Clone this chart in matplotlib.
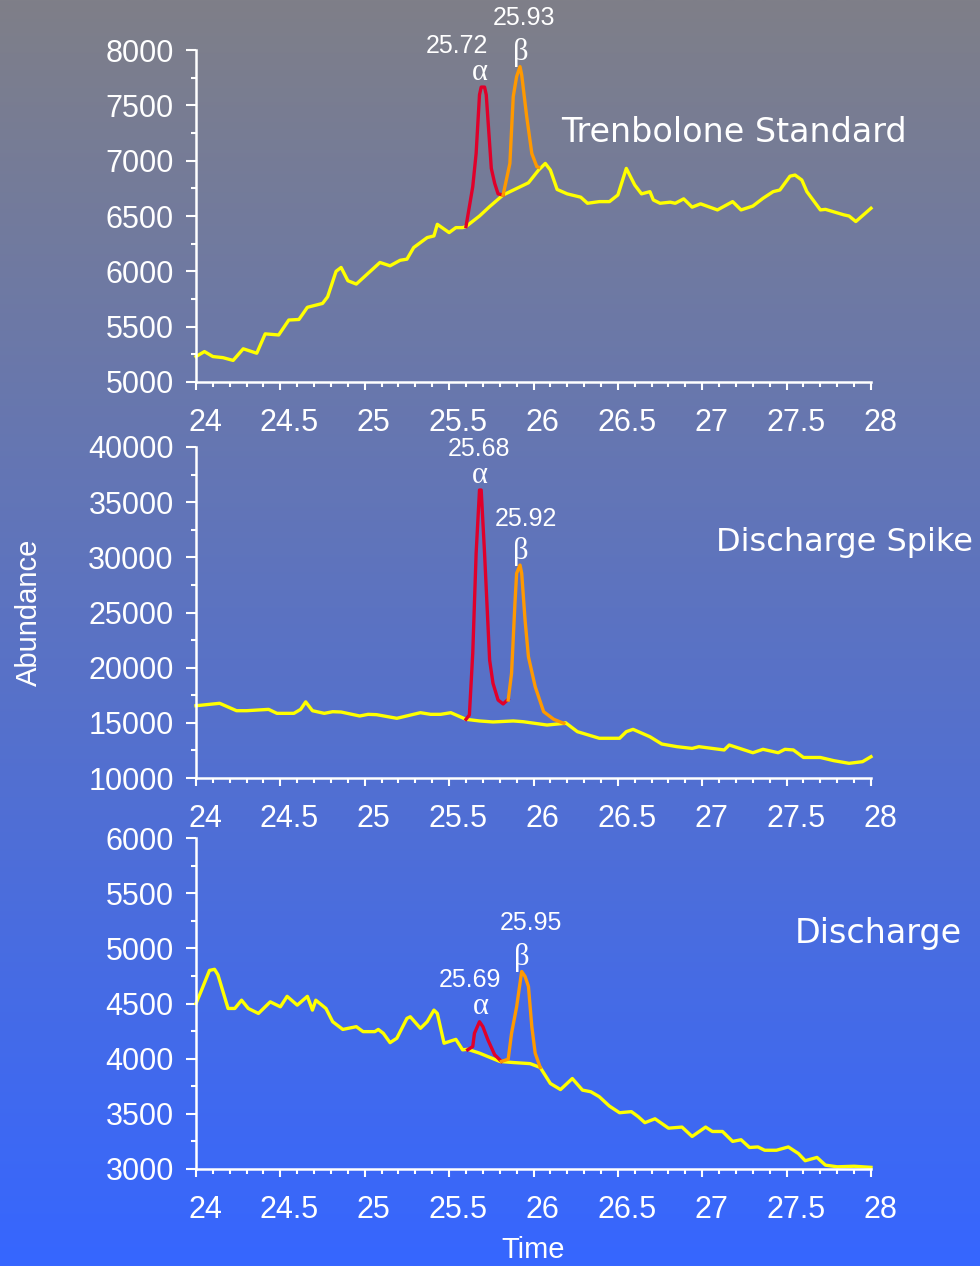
import numpy as np
import matplotlib
matplotlib.use("Agg")
from matplotlib import pyplot as plt
from matplotlib.ticker import MultipleLocator
from matplotlib.transforms import ScaledTranslation

# ---- data ----
# Trenbolone Standard
std_t = [24.00, 24.05, 24.10, 24.16, 24.22, 24.28, 24.36, 24.41, 24.49, 24.55, 24.61, 24.66,
         24.75, 24.78, 24.83, 24.86, 24.90, 24.95, 25.09, 25.15, 25.21, 25.25, 25.29, 25.37,
         25.41, 25.43, 25.50, 25.54, 25.58, 25.60, 25.68, 25.74, 25.82, 25.97, 26.03, 26.07,
         26.10, 26.14, 26.20, 26.28, 26.32, 26.39, 26.45, 26.50, 26.55, 26.60, 26.64, 26.69,
         26.71, 26.75, 26.81, 26.84, 26.89, 26.94, 26.99, 27.09, 27.18, 27.23, 27.30, 27.36,
         27.42, 27.46, 27.52, 27.55, 27.59, 27.62, 27.70, 27.73, 27.84, 27.87, 27.91, 28.00]
std_ab = [5230, 5275, 5230, 5220, 5195, 5300, 5260, 5435, 5425, 5560, 5565, 5675,
          5710, 5770, 6000, 6035, 5915, 5885, 6080, 6050, 6100, 6110, 6215, 6305,
          6320, 6425, 6350, 6395, 6395, 6405, 6500, 6585, 6690, 6800, 6915, 6975,
          6915, 6740, 6700, 6670, 6615, 6630, 6630, 6690, 6930, 6780, 6700, 6720,
          6645, 6615, 6625, 6615, 6655, 6580, 6610, 6555, 6630, 6555, 6590, 6660,
          6720, 6735, 6860, 6870, 6825, 6720, 6555, 6560, 6510, 6500, 6450, 6570]
std_alpha_t = [25.60, 25.64, 25.66, 25.68, 25.69, 25.71, 25.72, 25.75, 25.77, 25.79, 25.82]
std_alpha_ab = [6405, 6765, 7065, 7595, 7665, 7665, 7595, 6930, 6795, 6700, 6690]
std_beta_t = [25.82, 25.86, 25.88, 25.90, 25.92, 25.93, 25.96, 25.99, 26.02, 26.03]
std_beta_ab = [6690, 6975, 7580, 7760, 7850, 7775, 7395, 7065, 6945, 6940]

# Discharge Spike
spk_t = [24.00, 24.14, 24.24, 24.30, 24.43, 24.48, 24.58, 24.62, 24.65, 24.69, 24.76, 24.81,
         24.86, 24.97, 25.02, 25.07, 25.19, 25.33, 25.39, 25.45, 25.51, 25.60, 25.68, 25.76,
         25.88, 25.94, 26.08, 26.18, 26.19, 26.26, 26.39, 26.51, 26.55, 26.59, 26.69, 26.76,
         26.85, 26.94, 26.98, 27.13, 27.16, 27.30, 27.36, 27.45, 27.49, 27.54, 27.60, 27.70,
         27.78, 27.87, 27.95, 28.00]
spk_ab = [16550, 16770, 16100, 16100, 16220, 15860, 15860, 16220, 16900, 16100, 15860, 16010,
          15980, 15620, 15770, 15740, 15410, 15920, 15770, 15770, 15920, 15320, 15170, 15080,
          15170, 15100, 14800, 14950, 15010, 14200, 13600, 13600, 14200, 14410, 13740, 13080,
          12840, 12680, 12840, 12540, 12990, 12290, 12600, 12290, 12600, 12540, 11860, 11860,
          11570, 11330, 11480, 11930]
spk_alpha_t = [25.60, 25.62, 25.64, 25.66, 25.68, 25.69, 25.71, 25.74, 25.76, 25.79, 25.82, 25.85]
spk_alpha_ab = [15320, 15710, 21300, 30360, 36100, 36100, 30360, 20690, 18580, 17070, 16710, 17130]
spk_beta_t = [25.85, 25.87, 25.89, 25.90, 25.92, 25.93, 25.95, 25.97, 26.01, 26.06, 26.12, 26.18]
spk_beta_ab = [17070, 19490, 25830, 28550, 29300, 28550, 24320, 20990, 18280, 16010, 15320, 14950]

# Discharge
dis_t = [24.00, 24.03, 24.08, 24.11, 24.13, 24.19, 24.23, 24.27, 24.31, 24.37, 24.44, 24.50,
         24.54, 24.60, 24.66, 24.69, 24.71, 24.77, 24.81, 24.87, 24.95, 24.99, 25.06, 25.08,
         25.11, 25.15, 25.19, 25.25, 25.27, 25.33, 25.37, 25.41, 25.43, 25.47, 25.50, 25.54,
         25.58, 25.61, 25.68, 25.80, 25.88, 25.98, 26.04, 26.10, 26.16, 26.23, 26.29, 26.34,
         26.39, 26.45, 26.51, 26.58, 26.62, 26.66, 26.72, 26.80, 26.88, 26.94, 27.02, 27.06,
         27.12, 27.18, 27.23, 27.28, 27.33, 27.37, 27.44, 27.51, 27.57, 27.61, 27.68, 27.73,
         27.80, 27.90, 28.00]
dis_ab = [4500, 4610, 4800, 4810, 4760, 4455, 4455, 4530, 4455, 4410, 4515, 4470,
          4565, 4485, 4565, 4440, 4530, 4455, 4335, 4265, 4290, 4245, 4245, 4265,
          4230, 4145, 4185, 4365, 4380, 4275, 4335, 4440, 4410, 4140, 4155, 4175,
          4080, 4085, 4050, 3975, 3965, 3955, 3920, 3775, 3720, 3820, 3715, 3700,
          3655, 3570, 3510, 3520, 3475, 3420, 3455, 3370, 3380, 3295, 3380, 3340,
          3340, 3250, 3265, 3195, 3200, 3170, 3170, 3200, 3140, 3075, 3105, 3035,
          3020, 3025, 3015]
dis_alpha_t = [25.61, 25.64, 25.65, 25.68, 25.70, 25.73, 25.77, 25.81]
dis_alpha_ab = [4080, 4110, 4230, 4335, 4290, 4170, 4035, 3975]
dis_beta_t = [25.81, 25.85, 25.87, 25.90, 25.93, 25.95, 25.97, 25.99, 26.01, 26.04]
dis_beta_ab = [3975, 3995, 4230, 4470, 4790, 4745, 4655, 4290, 4050, 3920]

titles = ["Trenbolone Standard", "Discharge Spike", "Discharge"]
alpha_rt = ["25.72", "25.68", "25.69"]
beta_rt = ["25.93", "25.92", "25.95"]
ylims = [(5000, 8000), (10000, 40000), (3000, 6000)]
ymajor = [500, 5000, 500]

W, H = 980, 1266
fig = plt.figure(figsize=(W / 100, H / 100), dpi=100)

# gradient background grey -> blue
bg = fig.add_axes([0, 0, 1, 1], zorder=-10)
top_c = np.array([127, 127, 136]) / 255
bot_c = np.array([54, 102, 255]) / 255
f = np.linspace(0, 1, 512)[:, None, None]
grad = top_c * (1 - f) + bot_c * f
bg.imshow(grad, aspect="auto", extent=[0, 1, 0, 1])
bg.axis("off")

# axes boxes in pixels: (left, top, right, bottom)
boxes = [(196, 50, 871, 382), (196, 447, 871, 778), (196, 838, 871, 1169)]
title_pos = [(561, 133, 24), (716, 542, 23), (795, 933, 24)]

panels = [
    (std_t, std_ab, std_alpha_t, std_alpha_ab, std_beta_t, std_beta_ab),
    (spk_t, spk_ab, spk_alpha_t, spk_alpha_ab, spk_beta_t, spk_beta_ab),
    (dis_t, dis_ab, dis_alpha_t, dis_alpha_ab, dis_beta_t, dis_beta_ab),
]
# label offsets from the peak top in pixels: (dx_num, dy_num, dx_greek, dy_greek)
a_off = [(-24, 41, -1, 15), (-1, 41, 0, 15), (-10, 42, 1, 15)]
b_off = [(4, 49, 1, 14), (6, 46, 1, 14), (9, 49, 0, 14)]

tick_font = "Liberation Sans"
white = "white"

for i, (t, ab, at, aa, bt, ba) in enumerate(panels):
    l, tp, r, b = boxes[i]
    ax = fig.add_axes([l / W, 1 - b / H, (r - l) / W, (b - tp) / H])
    ax.patch.set_alpha(0)
    ax.plot(t, ab, color="#ffff00", lw=2.4, solid_joinstyle="round", clip_on=False)
    ax.plot(at, aa, color="#e0002a", lw=2.4, solid_joinstyle="round", clip_on=False)
    ax.plot(bt, ba, color="#ff9900", lw=2.4, solid_joinstyle="round", clip_on=False)
    ax.set_xlim(24, 28)
    ax.set_ylim(*ylims[i])

    for s in ["top", "right"]:
        ax.spines[s].set_visible(False)
    for s in ["left", "bottom"]:
        ax.spines[s].set_color(white)
        ax.spines[s].set_linewidth(1.8)

    ax.xaxis.set_major_locator(MultipleLocator(0.5))
    ax.xaxis.set_minor_locator(MultipleLocator(0.1))
    ax.yaxis.set_major_locator(MultipleLocator(ymajor[i]))
    ax.yaxis.set_minor_locator(MultipleLocator(ymajor[i] / 2))
    ax.xaxis.set_major_formatter(matplotlib.ticker.FuncFormatter(lambda v, p: f"{v:g}"))
    ax.tick_params(axis="x", which="major", length=6, width=1.5, color=white, pad=13,
                   labelsize=22, labelcolor=white)
    ax.tick_params(axis="x", which="minor", length=3.5, width=1.5, color=white)
    ax.tick_params(axis="y", which="major", length=7, width=1.5, color=white, pad=9,
                   labelsize=22, labelcolor=white)
    ax.tick_params(axis="y", which="minor", length=3.5, width=1.5, color=white)
    for lab in ax.get_xticklabels() + ax.get_yticklabels():
        lab.set_fontfamily(tick_font)
    shift = ScaledTranslation(9 / 100, 0, fig.dpi_scale_trans)
    for lab in ax.get_xticklabels():
        lab.set_transform(lab.get_transform() + shift)

    # peak labels
    ka = int(np.argmax(aa))
    kb = int(np.argmax(ba))
    dx, dy, gx, gy = a_off[i]
    ax.annotate(alpha_rt[i], xy=(at[ka], aa[ka]), xytext=(dx, dy), textcoords="offset pixels",
                ha="center", va="center", color=white, fontsize=18, family=tick_font)
    ax.annotate("α", xy=(at[ka], aa[ka]), xytext=(gx, gy), textcoords="offset pixels",
                ha="center", va="center", color=white, fontsize=22, family="Liberation Serif")
    dx, dy, gx, gy = b_off[i]
    ax.annotate(beta_rt[i], xy=(bt[kb], ba[kb]), xytext=(dx, dy), textcoords="offset pixels",
                ha="center", va="center", color=white, fontsize=18, family=tick_font)
    ax.annotate("β", xy=(bt[kb], ba[kb]), xytext=(gx, gy), textcoords="offset pixels",
                ha="center", va="center", color=white, fontsize=22, family="Liberation Serif")

    tx, ty, fs = title_pos[i]
    fig.text(tx / W, 1 - ty / H, titles[i], ha="left", va="center", color=white,
             fontsize=fs, family="DejaVu Sans")

fig.text(29 / W, 1 - 612 / H, "Abundance", rotation=90, ha="center", va="center",
         color=white, fontsize=21, family=tick_font)
fig.text(533 / W, 1 - 1250 / H, "Time", ha="center", va="center",
         color=white, fontsize=21, family=tick_font)

fig.savefig("out.png", dpi=100)
